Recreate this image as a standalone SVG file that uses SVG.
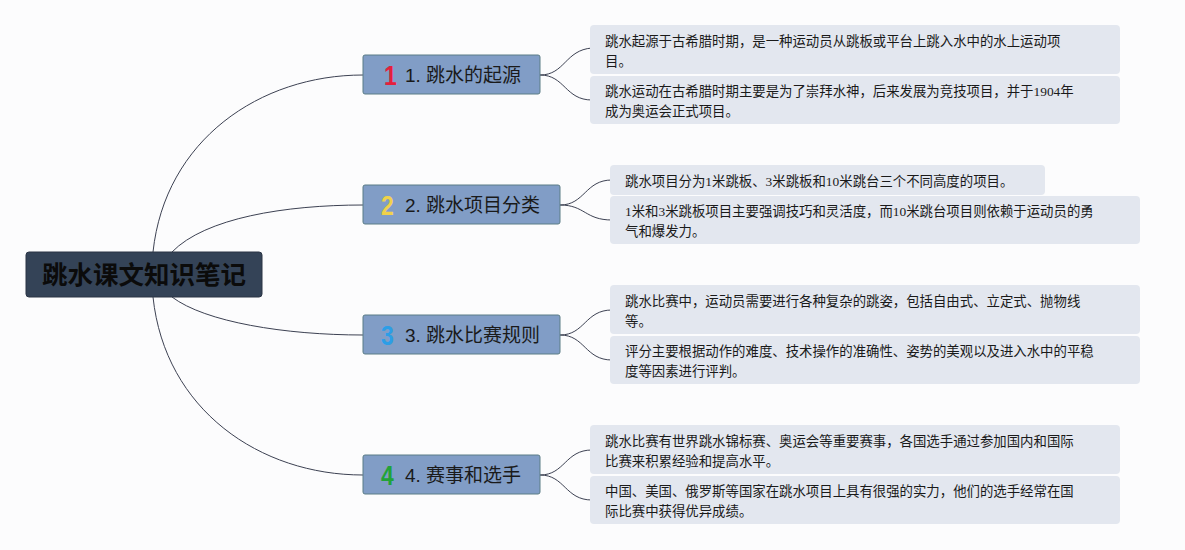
<svg xmlns="http://www.w3.org/2000/svg" width="1185" height="550" viewBox="0 0 1185 550">
<style>
.bg{fill:#fcfcfd}
.root{fill:#344357;stroke:#2a3445;stroke-width:1}
.rootT{font-family:"Noto Sans CJK SC","Liberation Sans",sans-serif;font-size:25.5px;font-weight:bold;fill:#0b0b0b}
.br{fill:#819dc6;stroke:#5b7d86;stroke-width:1}
.brT{font-family:"Liberation Sans","Noto Sans CJK SC",sans-serif;font-size:19px;fill:#1a1a1a}
.num{font-family:"Liberation Sans",sans-serif;font-size:27px;font-weight:bold}
.leaf{fill:#e3e7ef}
.lT{font-family:"Liberation Serif","Noto Sans CJK SC",serif;font-size:13.4px;fill:#1a1a1a}
.con path{fill:none;stroke:#3c4152;stroke-width:1}
</style>
<rect class="bg" x="0" y="0" width="1185" height="550"/>
<g class="con">
<path d="M153,252 C165,140 260,75 363,75"/>
<path d="M172,252 C205,218 285,205 363,205"/>
<path d="M172,297 C205,322 285,335 363,335"/>
<path d="M153,297 C165,410 260,475 363,475"/>
<path d="M540,75 C565,75 565,50 592,48"/>
<path d="M540,75 C565,75 565,100 592,100"/>
<path d="M560,205 C585,205 585,180 612,180"/>
<path d="M560,205 C585,205 585,220 612,220"/>
<path d="M560,335 C585,335 585,310 612,310"/>
<path d="M560,335 C585,335 585,360 612,360"/>
<path d="M540,475 C565,475 565,450 592,450"/>
<path d="M540,475 C565,475 565,500 592,500"/>
</g>
<g id="root">
<rect class="root" x="26" y="252" width="236" height="45" rx="3"/>
<text class="rootT" x="144" y="284" text-anchor="middle">跳水课文知识笔记</text>
</g>
<g id="b1">
<rect class="br" x="363" y="55" width="177" height="39" rx="2"/>
<text class="num" x="384" y="85" fill="#e3203c" transform="translate(384,0) scale(0.85,1) translate(-384,0)">1</text>
<text class="brT" x="405" y="82">1. 跳水的起源</text>
</g>
<g id="b2">
<rect class="br" x="363" y="185" width="197" height="39" rx="2"/>
<text class="num" x="381" y="215" fill="#f0d24a" transform="translate(381,0) scale(0.85,1) translate(-381,0)">2</text>
<text class="brT" x="405" y="212">2. 跳水项目分类</text>
</g>
<g id="b3">
<rect class="br" x="363" y="315" width="197" height="39" rx="2"/>
<text class="num" x="381" y="345" fill="#2c9ee6" transform="translate(381,0) scale(0.85,1) translate(-381,0)">3</text>
<text class="brT" x="405" y="342">3. 跳水比赛规则</text>
</g>
<g id="b4">
<rect class="br" x="363" y="455" width="177" height="39" rx="2"/>
<text class="num" x="381" y="485" fill="#22a33a" transform="translate(381,0) scale(0.85,1) translate(-381,0)">4</text>
<text class="brT" x="405" y="482">4. 赛事和选手</text>
</g>
<g id="l1a">
<rect class="leaf" x="590" y="25" width="530" height="49" rx="4"/>
<text class="lT" x="605" y="46">跳水起源于古希腊时期，是一种运动员从跳板或平台上跳入水中的水上运动项</text>
<text class="lT" x="605" y="66">目。</text>
</g>
<g id="l1b">
<rect class="leaf" x="590" y="76" width="530" height="48" rx="4"/>
<text class="lT" x="605" y="96">跳水运动在古希腊时期主要是为了崇拜水神，后来发展为竞技项目，并于1904年</text>
<text class="lT" x="605" y="116">成为奥运会正式项目。</text>
</g>
<g id="l2a">
<rect class="leaf" x="610" y="165" width="435" height="30" rx="4"/>
<text class="lT" x="625" y="186">跳水项目分为1米跳板、3米跳板和10米跳台三个不同高度的项目。</text>
</g>
<g id="l2b">
<rect class="leaf" x="610" y="196" width="530" height="48" rx="4"/>
<text class="lT" x="625" y="216">1米和3米跳板项目主要强调技巧和灵活度，而10米跳台项目则依赖于运动员的勇</text>
<text class="lT" x="625" y="236">气和爆发力。</text>
</g>
<g id="l3a">
<rect class="leaf" x="610" y="285" width="530" height="49" rx="4"/>
<text class="lT" x="625" y="306">跳水比赛中，运动员需要进行各种复杂的跳姿，包括自由式、立定式、抛物线</text>
<text class="lT" x="625" y="326">等。</text>
</g>
<g id="l3b">
<rect class="leaf" x="610" y="336" width="530" height="48" rx="4"/>
<text class="lT" x="625" y="356">评分主要根据动作的难度、技术操作的准确性、姿势的美观以及进入水中的平稳</text>
<text class="lT" x="625" y="376">度等因素进行评判。</text>
</g>
<g id="l4a">
<rect class="leaf" x="590" y="425" width="530" height="49" rx="4"/>
<text class="lT" x="605" y="446">跳水比赛有世界跳水锦标赛、奥运会等重要赛事，各国选手通过参加国内和国际</text>
<text class="lT" x="605" y="466">比赛来积累经验和提高水平。</text>
</g>
<g id="l4b">
<rect class="leaf" x="590" y="476" width="530" height="48" rx="4"/>
<text class="lT" x="605" y="496">中国、美国、俄罗斯等国家在跳水项目上具有很强的实力，他们的选手经常在国</text>
<text class="lT" x="605" y="516">际比赛中获得优异成绩。</text>
</g>
</svg>
